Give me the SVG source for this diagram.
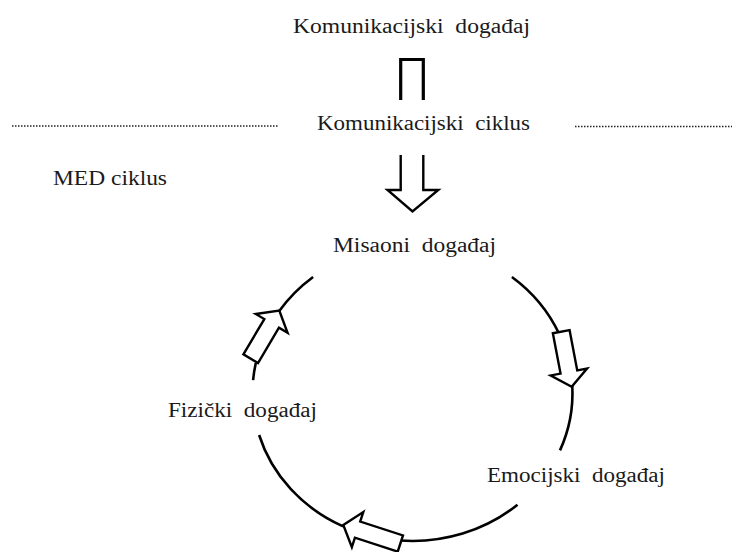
<svg xmlns="http://www.w3.org/2000/svg" width="732" height="552" viewBox="0 0 732 552">
<style>
text{font-family:'Liberation Serif','Times New Roman',serif;font-size:20px;fill:#1a1a1a;}
.arc{fill:none;stroke:#000;stroke-width:2.6;stroke-linecap:butt;}
.blk{fill:#fff;stroke:#000;stroke-width:2.4;stroke-linejoin:miter;}
.dot{stroke:#222;stroke-width:1.6;stroke-dasharray:1.5 1.5;fill:none;}
</style>
<defs>
<polygon id="ba" points="-56,-8.5 -15,-8.5 -15,-18.5 0,0 -15,18.5 -15,8.5 -56,8.5"/>
<polygon id="bb" points="-60,-8.5 -15,-8.5 -15,-18.5 0,0 -15,18.5 -15,8.5 -60,8.5"/>
</defs>
<rect width="732" height="552" fill="#fff"/>

<g id="separator">
<line class="dot" x1="12" y1="126" x2="279" y2="126"/>
<line class="dot" x1="575" y1="126.5" x2="732" y2="126.5"/>
</g>

<g id="node-kom-dogadaj"><text x="293" y="33" textLength="237" lengthAdjust="spacingAndGlyphs" xml:space="preserve">Komunikacijski  događaj</text></g>
<g id="node-kom-ciklus"><text x="317" y="129.5" textLength="213" lengthAdjust="spacingAndGlyphs" xml:space="preserve">Komunikacijski  ciklus</text></g>
<g id="node-med"><text x="53" y="185" textLength="114" lengthAdjust="spacingAndGlyphs">MED ciklus</text></g>
<g id="node-misaoni"><text x="333" y="251.5" textLength="163" lengthAdjust="spacingAndGlyphs" xml:space="preserve">Misaoni  događaj</text></g>
<g id="node-fizicki"><text x="168" y="416.5" textLength="149" lengthAdjust="spacingAndGlyphs" xml:space="preserve">Fizički  događaj</text></g>
<g id="node-emocijski"><text x="487" y="481.5" textLength="178" lengthAdjust="spacingAndGlyphs" xml:space="preserve">Emocijski  događaj</text></g>

<g id="connectors">
<path d="M400.7,100 V59.5 H423.3 V100" fill="none" stroke="#000" stroke-width="3.2" stroke-linejoin="miter"/>
<path class="blk" d="M400.7,155 V190 H387.5 L412.5,211.5 L438.3,190 H423.3 V155"/>
<path class="arc" d="M511.9,277 A160,148 0 0 1 559.1,333.8"/>
<path class="arc" d="M572.3,386 A160,148 0 0 1 560,450.4"/>
<path class="arc" d="M517.5,504.7 A160,148 0 0 1 399.9,540.5"/>
<path class="arc" d="M343.1,526.4 A160,148 0 0 1 259.1,435"/>
<path class="arc" d="M253.1,380.1 A160,148 0 0 1 255.8,363"/>
<path class="arc" d="M279.1,311.3 A160,148 0 0 1 313.1,277"/>
<use href="#ba" class="blk" transform="translate(571.7,386.7) rotate(79.2)"/>
<use href="#bb" class="blk" transform="translate(343.3,525) rotate(198)"/>
<use href="#ba" class="blk" transform="translate(279.3,310.5) rotate(-59.3)"/>
</g>
</svg>
